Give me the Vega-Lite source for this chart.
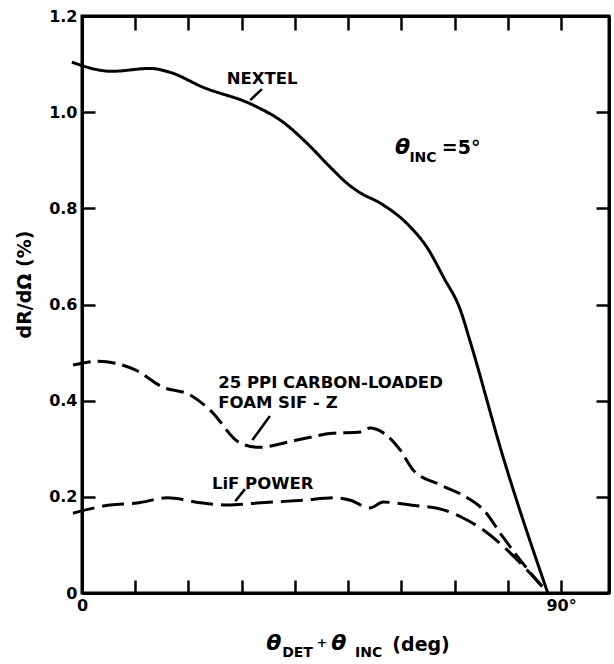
{
  "$schema": "https://vega.github.io/schema/vega-lite/v6.json",
  "width": 527,
  "height": 577,
  "autosize": "none",
  "padding": {"left": 82, "top": 16, "right": 5, "bottom": 71},
  "background": "white",
  "datasets": {
    "curves": [
      {"series": "NEXTEL", "x": -1.9, "y": 1.104},
      {"series": "NEXTEL", "x": 5.6, "y": 1.085},
      {"series": "NEXTEL", "x": 12.8, "y": 1.091},
      {"series": "NEXTEL", "x": 16.5, "y": 1.083},
      {"series": "NEXTEL", "x": 22.7, "y": 1.052},
      {"series": "NEXTEL", "x": 32.1, "y": 1.015},
      {"series": "NEXTEL", "x": 37.8, "y": 0.979},
      {"series": "NEXTEL", "x": 42.3, "y": 0.935},
      {"series": "NEXTEL", "x": 46.6, "y": 0.886},
      {"series": "NEXTEL", "x": 49.8, "y": 0.852},
      {"series": "NEXTEL", "x": 52.3, "y": 0.832},
      {"series": "NEXTEL", "x": 56.0, "y": 0.811},
      {"series": "NEXTEL", "x": 61.7, "y": 0.761},
      {"series": "NEXTEL", "x": 64.8, "y": 0.719},
      {"series": "NEXTEL", "x": 67.9, "y": 0.657},
      {"series": "NEXTEL", "x": 71.1, "y": 0.588},
      {"series": "NEXTEL", "x": 73.0, "y": 0.52},
      {"series": "NEXTEL", "x": 79.1, "y": 0.283},
      {"series": "NEXTEL", "x": 87.5, "y": 0.0},
      {"series": "FOAM", "x": -1.7, "y": 0.474},
      {"series": "FOAM", "x": 3.0, "y": 0.482},
      {"series": "FOAM", "x": 10.0, "y": 0.464},
      {"series": "FOAM", "x": 15.2, "y": 0.428},
      {"series": "FOAM", "x": 20.3, "y": 0.412},
      {"series": "FOAM", "x": 24.1, "y": 0.38},
      {"series": "FOAM", "x": 29.7, "y": 0.312},
      {"series": "FOAM", "x": 33.1, "y": 0.303},
      {"series": "FOAM", "x": 40.4, "y": 0.318},
      {"series": "FOAM", "x": 47.0, "y": 0.332},
      {"series": "FOAM", "x": 52.3, "y": 0.335},
      {"series": "FOAM", "x": 54.1, "y": 0.343},
      {"series": "FOAM", "x": 56.6, "y": 0.333},
      {"series": "FOAM", "x": 59.8, "y": 0.297},
      {"series": "FOAM", "x": 62.2, "y": 0.256},
      {"series": "FOAM", "x": 67.3, "y": 0.225},
      {"series": "FOAM", "x": 72.4, "y": 0.198},
      {"series": "FOAM", "x": 75.4, "y": 0.173},
      {"series": "FOAM", "x": 79.1, "y": 0.116},
      {"series": "FOAM", "x": 82.3, "y": 0.069},
      {"series": "FOAM", "x": 87.5, "y": 0.0},
      {"series": "LIF", "x": -1.7, "y": 0.166},
      {"series": "LIF", "x": 5.3, "y": 0.183},
      {"series": "LIF", "x": 10.3, "y": 0.187},
      {"series": "LIF", "x": 16.0, "y": 0.198},
      {"series": "LIF", "x": 22.7, "y": 0.187},
      {"series": "LIF", "x": 27.3, "y": 0.183},
      {"series": "LIF", "x": 32.9, "y": 0.187},
      {"series": "LIF", "x": 41.5, "y": 0.193},
      {"series": "LIF", "x": 47.5, "y": 0.198},
      {"series": "LIF", "x": 50.4, "y": 0.193},
      {"series": "LIF", "x": 54.1, "y": 0.177},
      {"series": "LIF", "x": 56.6, "y": 0.189},
      {"series": "LIF", "x": 61.7, "y": 0.183},
      {"series": "LIF", "x": 67.9, "y": 0.173},
      {"series": "LIF", "x": 71.6, "y": 0.156},
      {"series": "LIF", "x": 75.4, "y": 0.131},
      {"series": "LIF", "x": 79.9, "y": 0.089},
      {"series": "LIF", "x": 83.6, "y": 0.048},
      {"series": "LIF", "x": 87.5, "y": 0.0}
    ],
    "leaders": [
      {"x": 31.6, "y": 1.025, "x2": 33.8, "y2": 1.048},
      {"x": 32.0, "y": 0.318, "x2": 35.3, "y2": 0.368},
      {"x": 28.8, "y": 0.191, "x2": 30.6, "y2": 0.216}
    ],
    "labels": [
      {"x": 27.2, "y": 1.069, "text": "NEXTEL"},
      {"x": 25.6, "y": 0.437, "text": "25 PPI CARBON-LOADED"},
      {"x": 25.6, "y": 0.395, "text": "FOAM  SIF - Z"},
      {"x": 24.4, "y": 0.227, "text": "LiF POWER"}
    ],
    "big": [
      {"x": 67.6, "y": 0.925, "text": "=5°"},
      {"x": 58.3, "y": -0.108, "text": "(deg)"}
    ],
    "plus": [
      {"x": 45.1, "y": -0.104, "text": "+"}
    ],
    "thetas": [
      {"x": 58.8, "y": 0.927, "text": "θ"},
      {"x": 34.6, "y": -0.104, "text": "θ"},
      {"x": 46.8, "y": -0.104, "text": "θ"}
    ],
    "subs": [
      {"x": 61.5, "y": 0.904, "text": "INC"},
      {"x": 37.6, "y": -0.124, "text": "DET"},
      {"x": 51.3, "y": -0.124, "text": "INC"}
    ]
  },
  "resolve": {"axis": {"x": "independent", "y": "independent"}},
  "layer": [
    {
      "data": {"name": "curves"},
      "mark": {"type": "line", "color": "black", "strokeWidth": 3, "clip": false, "interpolate": "monotone"},
      "encoding": {
        "x": {"field": "x", "type": "quantitative",
              "scale": {"domain": [0, 99], "nice": false, "zero": false},
              "axis": {"orient": "bottom", "values": [0, 10, 20, 30, 40, 50, 60, 70, 80, 90],
                       "tickSize": -13, "labelPadding": 17,
                       "labelExpr": "datum.value == 0 ? '0' : (datum.value == 90 ? '90°' : '')",
                       "labelAlign": "center", "labelFlush": false, "title": null}},
        "y": {"field": "y", "type": "quantitative",
              "scale": {"domain": [0, 1.2], "nice": false},
              "axis": {"orient": "left", "values": [0, 0.2, 0.4, 0.6, 0.8, 1.0, 1.2],
                       "tickSize": -13, "labelPadding": 18,
                       "labelExpr": "datum.value == 0 ? '0' : format(datum.value, '.1f')",
                       "title": "dR/dΩ (%)", "titleX": -58, "titleY": 268,
                       "titleBaseline": "middle", "titleFont": "DejaVu Sans",
                       "titleFontWeight": "bold", "titleFontSize": 19, "titleColor": "black"}},
        "strokeDash": {"field": "series", "type": "nominal",
                       "scale": {"domain": ["NEXTEL", "FOAM", "LIF"], "range": [[1, 0], [18, 7], [22, 8]]},
                       "legend": null},
        "detail": {"field": "series"}
      }
    },
    {
      "data": {"name": "leaders"},
      "mark": {"type": "rule", "color": "black", "strokeWidth": 2.5},
      "encoding": {
        "x": {"field": "x", "type": "quantitative",
              "axis": {"orient": "top", "values": [10, 20, 30, 40, 50, 60, 70, 80, 90],
                       "tickSize": -14, "labels": false, "title": null}},
        "y": {"field": "y", "type": "quantitative",
              "axis": {"orient": "right", "values": [0.2, 0.4, 0.6, 0.8, 1.0],
                       "tickSize": -13, "labels": false, "title": null}},
        "x2": {"field": "x2"},
        "y2": {"field": "y2"}
      }
    },
    {
      "data": {"name": "labels"},
      "mark": {"type": "text", "align": "left", "baseline": "middle", "font": "DejaVu Sans",
               "fontWeight": "bold", "fontSize": 16.5, "color": "black"},
      "encoding": {
        "x": {"field": "x", "type": "quantitative", "axis": null},
        "y": {"field": "y", "type": "quantitative", "axis": null},
        "text": {"field": "text"}
      }
    },
    {
      "data": {"name": "big"},
      "mark": {"type": "text", "align": "left", "baseline": "middle", "font": "DejaVu Sans",
               "fontWeight": "bold", "fontSize": 19, "color": "black"},
      "encoding": {
        "x": {"field": "x", "type": "quantitative", "axis": null},
        "y": {"field": "y", "type": "quantitative", "axis": null},
        "text": {"field": "text"}
      }
    },
    {
      "data": {"name": "plus"},
      "mark": {"type": "text", "align": "center", "baseline": "middle", "font": "DejaVu Sans",
               "fontWeight": "bold", "fontSize": 13, "color": "black"},
      "encoding": {
        "x": {"field": "x", "type": "quantitative", "axis": null},
        "y": {"field": "y", "type": "quantitative", "axis": null},
        "text": {"field": "text"}
      }
    },
    {
      "data": {"name": "thetas"},
      "mark": {"type": "text", "align": "left", "baseline": "middle", "font": "DejaVu Sans",
               "fontWeight": "bold", "fontStyle": "italic", "fontSize": 22, "color": "black"},
      "encoding": {
        "x": {"field": "x", "type": "quantitative", "axis": null},
        "y": {"field": "y", "type": "quantitative", "axis": null},
        "text": {"field": "text"}
      }
    },
    {
      "data": {"name": "subs"},
      "mark": {"type": "text", "align": "left", "baseline": "middle", "font": "DejaVu Sans",
               "fontWeight": "bold", "fontSize": 14, "color": "black"},
      "encoding": {
        "x": {"field": "x", "type": "quantitative", "axis": null},
        "y": {"field": "y", "type": "quantitative", "axis": null},
        "text": {"field": "text"}
      }
    }
  ],
  "config": {
    "view": {"stroke": "black", "strokeWidth": 3},
    "axis": {"grid": false, "domainColor": "black", "domainWidth": 3, "tickColor": "black",
             "tickWidth": 2.5, "labelColor": "black", "labelFont": "DejaVu Sans",
             "labelFontWeight": "bold", "labelFontSize": 16}
  }
}
